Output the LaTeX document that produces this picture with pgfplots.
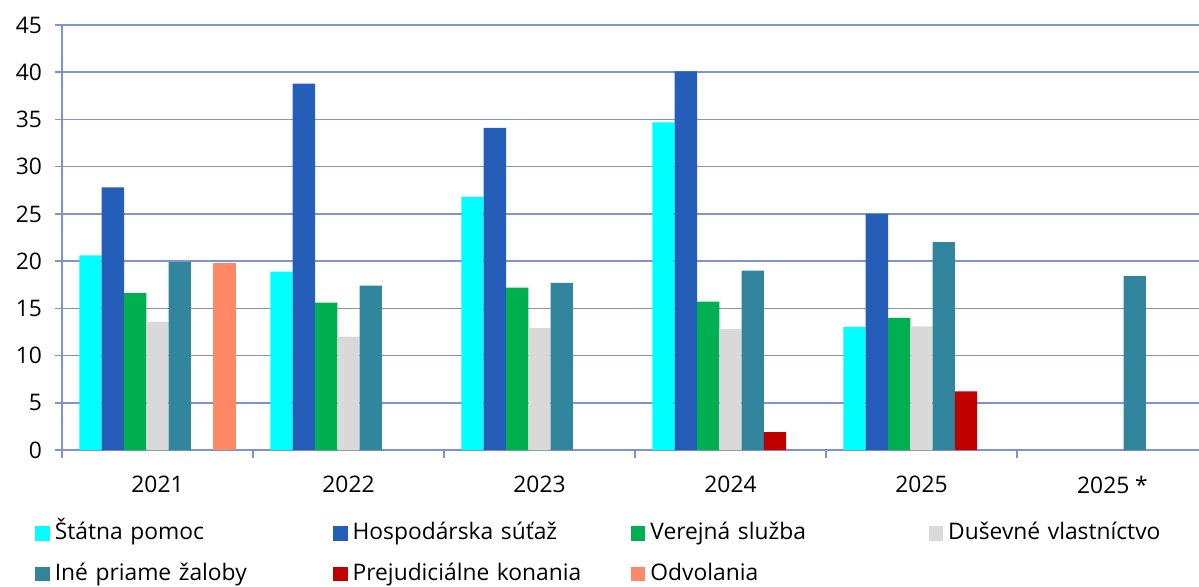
\documentclass[border=0pt]{standalone}
\usepackage{pgfplots}
\pgfplotsset{compat=1.18}
\usepackage{fontspec}
\setmainfont{Open Sans}
\definecolor{cState}{HTML}{00FFFF}
\definecolor{cComp}{HTML}{245EB9}
\definecolor{cPub}{HTML}{00B050}
\definecolor{cIP}{HTML}{D9D9D9}
\definecolor{cOther}{HTML}{31859C}
\definecolor{cPrej}{HTML}{C00000}
\definecolor{cApp}{HTML}{FF8866}
\definecolor{cGrid}{HTML}{8093D0}
\begin{document}
\begin{tikzpicture}
\useasboundingbox (-31pt,-68pt) rectangle (568.5pt,225pt);
\begin{axis}[
  name=ax,
  at={(0,0)}, anchor=south west,
  scale only axis,
  width=573pt, height=212.5pt,
  xmin=-0.5, xmax=5.5, ymin=0, ymax=45,
  enlargelimits=false,
  ybar=0pt, bar width=11.15pt,
  axis lines=left,
  axis line style={-, draw=cGrid, line width=0.8pt},
  ytick={0,5,...,45},
  ymajorgrids, grid style={draw=cGrid, line width=0.8pt},
  tick align=outside,
  major tick length=3.5pt,
  minor tick length=4pt,
  ytick style={draw=cGrid, line width=0.8pt},
  xtick={0,1,2,3,4,5},
  xticklabels={2021,2022,2023,2024,2025,2025 *},
  major x tick style={draw=none},
  minor xtick={-0.5,0.5,1.5,2.5,3.5,4.5,5.5},
  minor x tick style={draw=cGrid, line width=0.8pt},
  /pgf/number format/assume math mode=true,
  tick label style={font=\fontsize{11.4}{13.7}\selectfont, text=black},
  xticklabel style={yshift=-6pt},
  yticklabel style={xshift=-3pt},
  legend columns=4,
  legend cell align=left,
  legend image code/.code={\fill[#1] (0pt,-3.6pt) rectangle (7.2pt,3.6pt);},
  legend style={
    draw=none, fill=none, inner sep=0pt,
    at={(0,0)}, anchor=north west, xshift=-13.5pt, yshift=-34pt,
    font=\fontsize{11.4}{13.7}\selectfont,
    row sep=5pt,
    nodes={text width=136.7pt, align=left, inner xsep=2.5pt, inner ysep=2pt,
           text height=8.6pt, text depth=2.6pt},
  },
]
\addplot[fill=cState, draw=none] coordinates {(0,20.6) (1,18.9) (2,26.8) (3,34.7) (4,13.0)};
\addplot[fill=cComp, draw=none] coordinates {(0,27.8) (1,38.8) (2,34.1) (3,40.1) (4,25.0)};
\addplot[fill=cPub, draw=none] coordinates {(0,16.6) (1,15.6) (2,17.2) (3,15.7) (4,14.0)};
\addplot[fill=cIP, draw=none] coordinates {(0,13.6) (1,12.0) (2,12.9) (3,12.8) (4,13.1)};
\addplot[fill=cOther, draw=none] coordinates {(0,19.9) (1,17.4) (2,17.7) (3,19.0) (4,22.0) (5,18.4)};
\addplot[fill=cPrej, draw=none] coordinates {(3,1.9) (4,6.2)};
\addplot[fill=cApp, draw=none] coordinates {(0,19.8)};
\legend{Štátna pomoc, Hospodárska súťaž, Verejná služba, Duševné vlastníctvo, Iné priame žaloby, Prejudiciálne konania, Odvolania}
\end{axis}
\end{tikzpicture}
\end{document}
